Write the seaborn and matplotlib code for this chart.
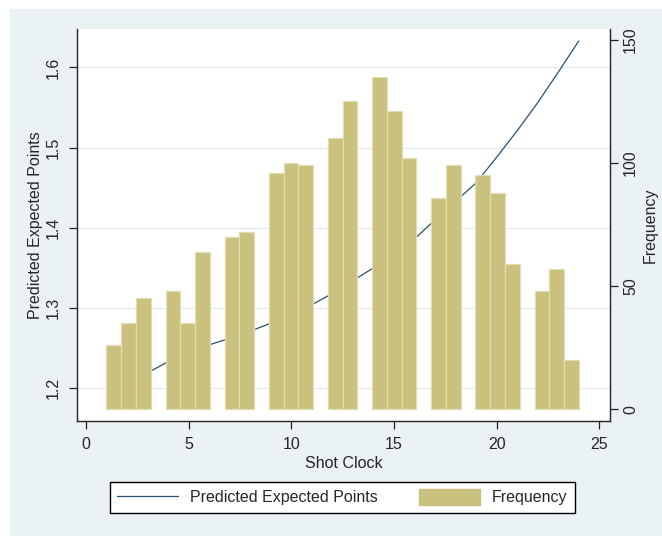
import numpy as np
import pandas as pd
import matplotlib
matplotlib.use("Agg")
import matplotlib.pyplot as plt
from matplotlib.patches import Rectangle, Patch
from matplotlib.lines import Line2D
import seaborn as sns

# Predicted expected points at each shot-clock reading (seconds)
shot_clock = [1, 2, 3, 4, 5, 6, 7, 8, 9, 10, 11, 12,
              13, 14, 15, 16, 17, 18, 19, 20, 21, 22, 23, 24]
pred_points = [1.174, 1.199, 1.219, 1.233, 1.244, 1.254, 1.262, 1.271,
               1.281, 1.292, 1.304, 1.318, 1.334, 1.350, 1.368, 1.386,
               1.410, 1.433, 1.456, 1.488, 1.521, 1.556, 1.594, 1.633]

# Shot frequency histogram: 32 equal bins spanning 1 to 24 seconds
hist_range = (1, 24)
n_bins = 32
frequency = [26, 35, 45, 0, 48, 35, 64, 0, 70, 72, 0, 96, 100, 99, 0,
             110, 125, 0, 135, 121, 102, 0, 86, 99, 0, 95, 88, 59, 0,
             48, 57, 20]

x_ticks = [0, 5, 10, 15, 20, 25]
left_ticks = [1.2, 1.3, 1.4, 1.5, 1.6]
right_ticks = [0, 50, 100, 150]

x_label = "Shot Clock"
left_label = "Predicted Expected Points"
right_label = "Frequency"

NAVY = "#2A4F72"
KHAKI = "#C9C17D"
BAR_EDGE = "#E2DEB4"
OUTER_BG = "#EAF2F3"
GRID = "#E6E9EA"
FS = 11.5

sns.set_style("white")
plt.rcParams["font.family"] = ["Liberation Sans", "DejaVu Sans"]

W, H = 662, 536
fig = plt.figure(figsize=(W / 100, H / 100), dpi=100, facecolor="white")
fig.patches.append(Rectangle((10 / W, 0), 1, 1 - 9 / H, transform=fig.transFigure,
                             facecolor=OUTER_BG, edgecolor="none", zorder=-10))

left, right, top, bottom = 76.7, 610, 29.3, 421
ax = fig.add_axes([left / W, 1 - bottom / H, (right - left) / W, (bottom - top) / H])
ax.set_facecolor("white")

line_df = pd.DataFrame({"clock": shot_clock, "points": pred_points})
sns.lineplot(data=line_df, x="clock", y="points", ax=ax, color=NAVY, lw=0.9)

ax2 = ax.twinx()
ax2.patch.set_visible(False)
bin_width = (hist_range[1] - hist_range[0]) / n_bins
centers = hist_range[0] + bin_width * (np.arange(n_bins) + 0.5)
hist_df = pd.DataFrame({"clock": centers, "freq": frequency})
sns.histplot(data=hist_df, x="clock", weights="freq", bins=n_bins, binrange=hist_range,
             ax=ax2, color=KHAKI, facecolor=KHAKI, edgecolor=BAR_EDGE,
             linewidth=0.9, alpha=1)
for p in ax2.patches:
    if p.get_height() == 0:
        p.set_visible(False)

ax.set_xlim(-0.45, 25.52)
ax.set_ylim(1.159, 1.6475)
ax2.set_ylim(-4.75, 154.3)

ax.set_xticks(x_ticks)
ax.set_yticks(left_ticks)
ax.set_yticklabels([f"{t:.1f}" for t in left_ticks])
ax2.set_yticks(right_ticks)

ax.yaxis.grid(True, color=GRID, lw=0.9)
ax.xaxis.grid(False)
ax2.grid(False)

for a in (ax, ax2):
    for s in a.spines.values():
        s.set_color("#222222")
        s.set_linewidth(1.0)
    a.spines["top"].set_visible(False)
ax.spines["right"].set_visible(False)
ax2.spines["left"].set_visible(False)
ax2.spines["bottom"].set_visible(False)

ax.tick_params(axis="x", direction="out", length=5.5, width=0.9, color="#222222",
               labelsize=FS, pad=6, bottom=True)
ax.tick_params(axis="y", direction="out", length=5.5, width=0.9, color="#222222",
               labelsize=FS, pad=6, labelrotation=90, left=True)
ax2.tick_params(axis="y", direction="out", length=5.5, width=0.9, color="#222222",
                labelsize=FS, pad=4, labelrotation=90, right=True)
for t in ax.get_yticklabels():
    t.set_va("center")
for t in ax2.get_yticklabels():
    t.set_va("center")

ax.set_xlabel(x_label, fontsize=FS, labelpad=3)
ax.set_ylabel(left_label, fontsize=FS, labelpad=2)
ax2.set_ylabel(right_label, fontsize=FS, labelpad=3)

handles = [Line2D([], [], color=NAVY, lw=0.9),
           Patch(facecolor=KHAKI, edgecolor=KHAKI)]
leg = fig.legend(handles, [left_label, right_label], ncol=2, loc="center",
                 bbox_to_anchor=(342.5 / W, 1 - 497.3 / H), frameon=True,
                 fancybox=False, edgecolor="black", framealpha=1, fontsize=FS,
                 handlelength=3.8, handleheight=1.1, handletextpad=0.75,
                 columnspacing=2.6, borderpad=0.45)
leg.get_frame().set_linewidth(1.0)

fig.savefig("out.png", dpi=100, facecolor="white")
